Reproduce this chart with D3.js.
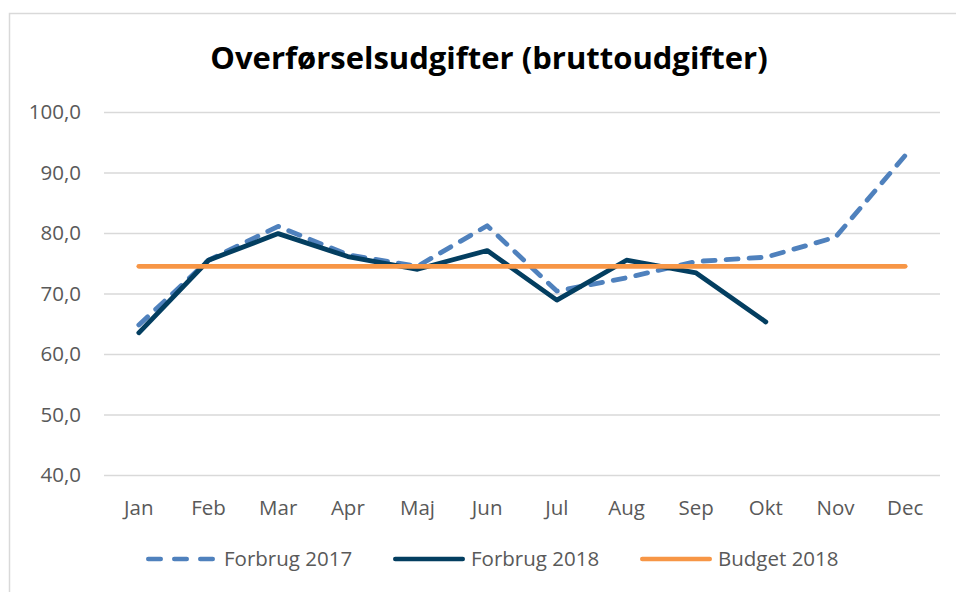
<!DOCTYPE html>
<html>
<head>
<meta charset="utf-8">
<script src="https://cdn.jsdelivr.net/npm/d3@7"></script>
<style>
  body { margin: 0; background: #fff; }
  text { font-family: "Open Sans", sans-serif; }
</style>
</head>
<body>
<svg id="chart"></svg>
<script>
const months = ['Jan', 'Feb', 'Mar', 'Apr', 'Maj', 'Jun', 'Jul', 'Aug', 'Sep', 'Okt', 'Nov', 'Dec'];
const forbrug2017 = [64.8, 75.5, 81.1, 76.4, 74.5, 81.2, 70.4, 72.6, 75.3, 76.0, 79.3, 92.8];
const forbrug2018 = [63.5, 75.5, 79.9, 76.1, 74.0, 77.1, 68.9, 75.5, 73.4, 65.3];
const budget2018 = [74.5, 74.5, 74.5, 74.5, 74.5, 74.5, 74.5, 74.5, 74.5, 74.5, 74.5, 74.5];
const yTicks = [40, 50, 60, 70, 80, 90, 100];

const width = 956, height = 592;
const margin = { top: 112, right: 16, bottom: 117, left: 104 };
const labelSize = 20.5;

const svg = d3.select('#chart')
  .attr('width', width)
  .attr('height', height);

// chart frame
svg.append('rect')
  .attr('x', 9.5).attr('y', 13.5)
  .attr('width', 960).attr('height', 600)
  .attr('fill', '#fff')
  .attr('stroke', '#d9d9d9')
  .attr('stroke-width', 1.5);

svg.append('text')
  .attr('x', 489).attr('y', 69)
  .attr('text-anchor', 'middle')
  .attr('font-size', 31)
  .attr('font-weight', 'bold')
  .attr('fill', '#000')
  .text('Overførselsudgifter (bruttoudgifter)');

const x = d3.scaleBand()
  .domain(months)
  .range([margin.left, width - margin.right]);

const y = d3.scaleLinear()
  .domain([40, 100])
  .range([height - margin.bottom, margin.top]);

const g = svg.append('g');

// gridlines
g.append('g')
  .attr('transform', `translate(${margin.left},0)`)
  .call(d3.axisLeft(y)
    .tickValues(yTicks)
    .tickSize(-(width - margin.left - margin.right))
    .tickPadding(23)
    .tickFormat(d => d3.format('.1f')(d).replace('.', ',')))
  .call(a => a.select('.domain').remove())
  .call(a => a.selectAll('.tick line').attr('stroke', '#d9d9d9').attr('stroke-width', 1.5))
  .call(a => a.selectAll('.tick text')
    .attr('fill', '#595959')
    .attr('font-size', labelSize)
    .attr('font-family', '"Open Sans", sans-serif'));

g.append('g')
  .attr('transform', `translate(0,${height - margin.bottom})`)
  .call(d3.axisBottom(x).tickSize(0).tickPadding(25))
  .call(a => a.select('.domain').remove())
  .call(a => a.selectAll('.tick text')
    .attr('fill', '#595959')
    .attr('font-size', labelSize)
    .attr('font-family', '"Open Sans", sans-serif'));

const cx = d => x(d) + x.bandwidth() / 2;
const line = d3.line()
  .x((d, i) => cx(months[i]))
  .y(d => y(d));

const series = [
  { name: 'Forbrug 2017', values: forbrug2017, color: '#4f81bd', dash: '12,11' },
  { name: 'Forbrug 2018', values: forbrug2018, color: '#033e60', dash: null },
  { name: 'Budget 2018', values: budget2018, color: '#f79646', dash: null }
];

series.forEach(s => {
  g.append('path')
    .datum(s.values)
    .attr('d', line)
    .attr('fill', 'none')
    .attr('stroke', s.color)
    .attr('stroke-width', 4.8)
    .attr('stroke-linecap', 'round')
    .attr('stroke-linejoin', 'round')
    .attr('stroke-dasharray', s.dash);
});

// legend
const legendX = [146, 393, 640];
const legend = svg.append('g').attr('transform', 'translate(0,559)');
series.forEach((s, i) => {
  const item = legend.append('g').attr('transform', `translate(${legendX[i]},0)`);
  item.append('line')
    .attr('x1', 2.25).attr('x2', 69.75)
    .attr('stroke', s.color)
    .attr('stroke-width', 4.5)
    .attr('stroke-linecap', 'round')
    .attr('stroke-dasharray', s.dash ? '12.5,13.5' : null);
  item.append('text')
    .attr('x', 78).attr('y', 7)
    .attr('font-size', labelSize)
    .attr('fill', '#595959')
    .text(s.name);
});
</script>
</body>
</html>
